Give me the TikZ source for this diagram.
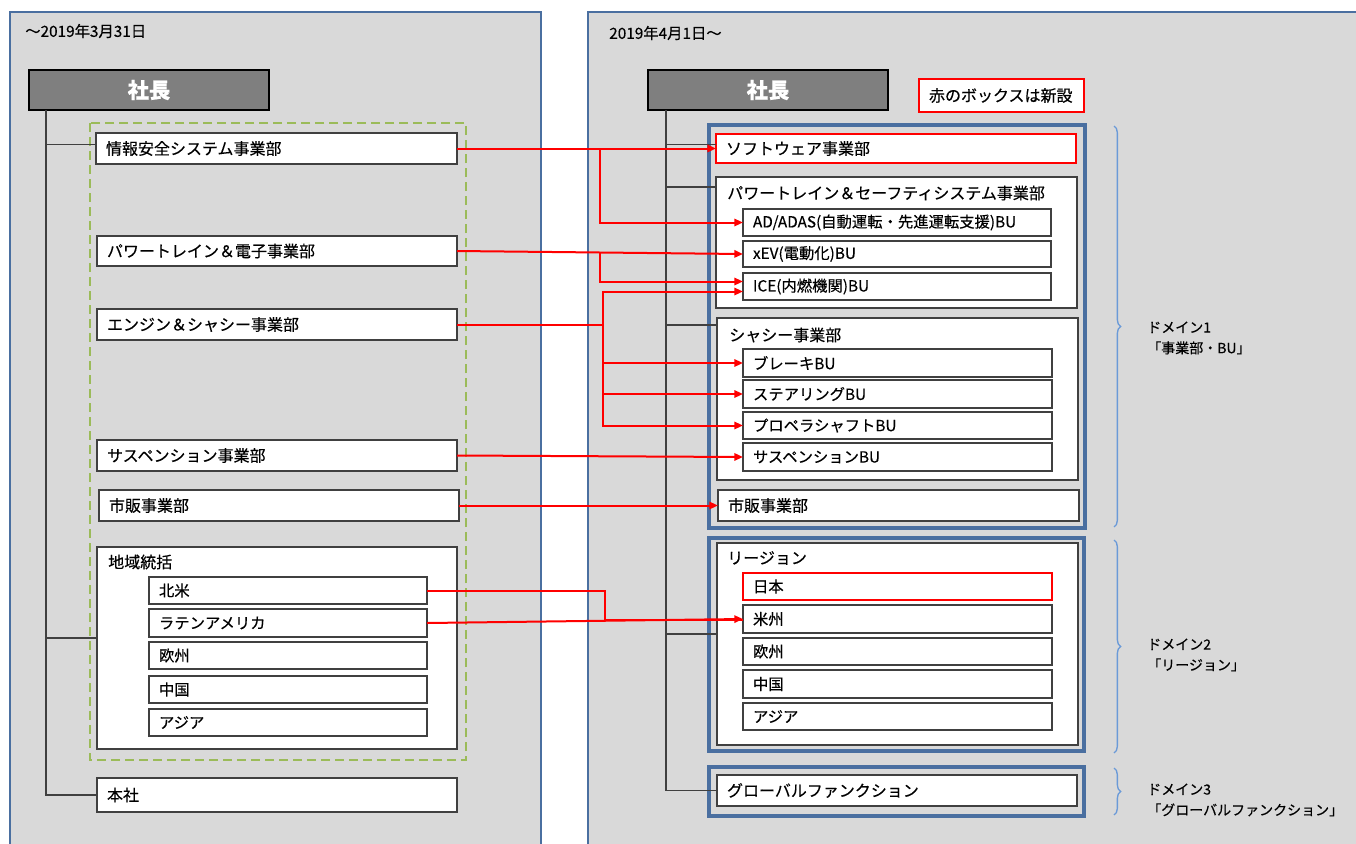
\documentclass[tikz,border=0pt]{standalone}
\usepackage{fontspec}
\setmainfont{Noto Sans CJK JP}[FakeBold=0.3]
\usetikzlibrary{arrows.meta,decorations.pathreplacing,calc}
\definecolor{panelbg}{HTML}{D9D9D9}
\definecolor{panelbd}{HTML}{4A6FA0}
\definecolor{boxbd}{HTML}{404040}
\definecolor{greend}{HTML}{9BBB59}
\definecolor{bracec}{HTML}{6A9AD8}
\definecolor{redl}{HTML}{FF0000}
\definecolor{headbg}{HTML}{7F7F7F}
\newcommand\lblf{\fontsize{12}{13}\selectfont}
\newcommand\bulf{\fontsize{11.5}{13}\selectfont}
\newcommand\headf{\fontsize{16}{18}\selectfont\bfseries}
\newcommand\datef{\fontsize{11.5}{12}\selectfont}
\newcommand\domf{\fontsize{10.5}{15.5}\selectfont}
\newcommand\mybox[7]{%
  \pgfmathsetmacro\mbw{(#4-#2-20)*0.75}%
  \pgfmathsetmacro\mbh{(#5-#3)*0.75}%
  \node[#6, anchor=north west, text width=\mbw pt, minimum height=\mbh pt] (#1) at (#2,#3) {#7};}
\tikzset{
  box/.style={draw=boxbd, fill=white, line width=1.3pt, inner xsep=7.5pt, inner ysep=0pt, outer sep=0pt, font=\lblf},
  bubox/.style={box, font=\bulf},
  newbox/.style={box, draw=redl},
  head/.style={draw=black, fill=headbg, line width=1.4pt, text=white, font=\headf, align=center, inner xsep=7.5pt, inner ysep=0pt, outer sep=0pt},
  dom/.style={draw=panelbd, line width=2.6pt, inner xsep=7.5pt, inner ysep=0pt, outer sep=0pt},
  ttl/.style={anchor=west, font=\lblf, inner sep=0pt},
  rl/.style={draw=redl, line width=1.5pt, -{Triangle[length=6.5pt,width=5.5pt]}},
  rlno/.style={draw=redl, line width=1.5pt},
  trunk/.style={draw=boxbd, line width=1.1pt},
  brc/.style={draw=bracec, line width=1pt, decorate, decoration={brace, amplitude=5pt}},
  domtxt/.style={anchor=west, font=\domf, align=left, inner sep=0pt}
}
\begin{document}
\begin{tikzpicture}[x=0.75pt,y=-0.75pt]
\useasboundingbox (0,0) rectangle (1356,843);
\clip (0,0) rectangle (1356,843);
\fill[white] (0,0) rectangle (1356,843);
% panels
\draw[panelbd, fill=panelbg, line width=1.6pt] (10,12) rectangle (541,880);
\draw[panelbd, fill=panelbg, line width=1.6pt] (588,12) rectangle (1400,880);
% ---------- left panel ----------
\node[anchor=west, font=\datef, inner sep=0pt] (dl) at (25,31) {～2019年3月31日};
\mybox{head1}{29}{70}{269}{110}{head}{社長}
\draw[greend, line width=1.6pt, dash pattern=on 6.5pt off 4pt] (90,123) rectangle (466,760);
\mybox{joho}{96}{133}{457}{164}{box}{情報安全システム事業部}
\mybox{pte}{97}{236}{457}{266}{box}{パワートレイン＆電子事業部}
\mybox{eng}{97}{309}{457}{340}{box}{エンジン＆シャシー事業部}
\mybox{susp}{97}{440}{457}{471}{box}{サスペンション事業部}
\mybox{shihan1}{99}{490}{459}{521}{box}{市販事業部}
\mybox{chiiki}{97}{547}{457}{749}{box}{}
\node[ttl] (chiikit) at (108,562) {地域統括};
\mybox{hokubei}{149}{577}{427}{604}{bubox}{北米}
\mybox{latin}{149}{609}{427}{637}{bubox}{ラテンアメリカ}
\mybox{oushu1}{149}{642}{427}{669}{bubox}{欧州}
\mybox{chugoku1}{149}{676}{427}{703}{bubox}{中国}
\mybox{asia1}{149}{709}{427}{736}{bubox}{アジア}
\mybox{honsha}{97}{778}{457}{812}{box}{本社}
\coordinate (lt) at (46,0);
\draw[trunk] (head1.south -| lt) |- (honsha.west);
\draw[trunk] ($(joho.west -| lt)+(0,-4)$) -- ($(joho.west)+(0,-4)$);
\draw[trunk] ($(chiiki.west -| lt)+(0,-10)$) -- ($(chiiki.west)+(0,-10)$);
% ---------- right panel ----------
\node[anchor=west, font=\datef, inner sep=0pt] (dr) at (609,33) {2019年4月1日～};
\mybox{head2}{648}{70}{888}{110}{head}{社長}
\mybox{legend}{919}{79}{1084}{112}{newbox}{赤のボックスは新設}
\mybox{d1box}{709}{125}{1085}{528}{dom}{}
\mybox{soft}{716}{134}{1076}{163}{newbox}{ソフトウェア事業部}
\mybox{pts}{716}{177}{1077}{308}{box}{}
\node[ttl] (ptst) at (727,193) {パワートレイン＆セーフティシステム事業部};
\mybox{adas}{743}{209}{1051}{236}{bubox}{AD/ADAS(自動運転・先進運転支援)BU}
\mybox{xev}{743}{241}{1051}{267}{bubox}{xEV(電動化)BU}
\mybox{ice}{743}{273}{1051}{300}{bubox}{ICE(内燃機関)BU}
\mybox{chassis}{717}{318}{1078}{480}{box}{}
\node[ttl] (chassist) at (729,335) {シャシー事業部};
\mybox{brake}{743}{349}{1052}{377}{bubox}{ブレーキBU}
\mybox{steer}{743}{380}{1052}{408}{bubox}{ステアリングBU}
\mybox{prop}{743}{412}{1052}{439}{bubox}{プロペラシャフトBU}
\mybox{suspbu}{743}{443}{1052}{471}{bubox}{サスペンションBU}
\mybox{shihan2}{718}{490}{1079}{521}{box}{市販事業部}
\mybox{d2box}{709}{538}{1084}{751}{dom}{}
\mybox{region}{717}{543}{1078}{745}{box}{}
\node[ttl] (regiont) at (727,558) {リージョン};
\mybox{nihon}{743}{573}{1052}{600}{newbox, font=\bulf}{日本}
\mybox{beishu}{743}{605}{1052}{633}{bubox}{米州}
\mybox{oushu2}{743}{638}{1052}{665}{bubox}{欧州}
\mybox{chugoku2}{743}{670}{1052}{698}{bubox}{中国}
\mybox{asia2}{743}{703}{1052}{730}{bubox}{アジア}
\mybox{d3box}{709}{767}{1084}{816}{dom}{}
\mybox{glob}{717}{775}{1077}{806}{box}{グローバルファンクション}
\coordinate (rt) at (666,0);
\draw[trunk] (head2.south -| rt) |- (glob.west);
\draw[trunk] ($(soft.west -| rt)+(0,-4)$) -- ($(soft.west)+(0,-4)$);
\draw[trunk] ($(pts.north west -| rt)+(0,10)$) -- ($(pts.north west)+(0,10)$);
\draw[trunk] ($(chassis.north west -| rt)+(0,7)$) -- ($(chassis.north west)+(0,7)$);
\draw[trunk] ($(region.west -| rt)+(0,-10)$) -- ($(region.west)+(0,-10)$);
% ---------- braces ----------
\coordinate (br1a) at (1114,126);
\coordinate (br1b) at (1114,527);
\coordinate (br2a) at (1114,540);
\coordinate (br2b) at (1114,753);
\coordinate (br3a) at (1114,768);
\coordinate (br3b) at (1114,815);
\draw[brc] (br1a) -- (br1b);
\draw[brc] (br2a) -- (br2b);
\draw[brc] (br3a) -- (br3b);
\node[domtxt] (dom1) at (1147,338) {ドメイン1\\「事業部・BU」};
\node[domtxt] (dom2) at (1147,655) {ドメイン2\\「リージョン」};
\node[domtxt] (dom3) at (1147,800) {ドメイン3\\「グローバルファンクション」};
% ---------- red connectors ----------
\coordinate (b1) at (600,0);
\coordinate (b2) at (603,0);
\coordinate (b3) at (605,0);
\draw[rl] (joho.east) -- (soft.west);
\draw[rl] (joho.east -| b1) |- (adas.west);
\draw[rl] (pte.east) -- (xev.west);
\draw[rl] ($(pte.east -| b1)+(0,2)$) |- ($(ice.west)+(0,-5)$);
\draw[rlno] (eng.east) -- (eng.east -| b2);
\draw[rl] (eng.east -| b2) |- ($(ice.west)+(0,5)$);
\draw[rl] (eng.east -| b2) |- (brake.west);
\draw[rl] (eng.east -| b2) |- (steer.west);
\draw[rl] (eng.east -| b2) |- (prop.west);
\draw[rl] (susp.east) -- (suspbu.west);
\draw[rl] (shihan1.east) -- (shihan2.west);
\draw[rlno] (hokubei.east) -- (hokubei.east -| b3) |- ($(beishu.west)+(0,1)$);
\draw[rl] (latin.east) -- (beishu.west);
\end{tikzpicture}
\end{document}
